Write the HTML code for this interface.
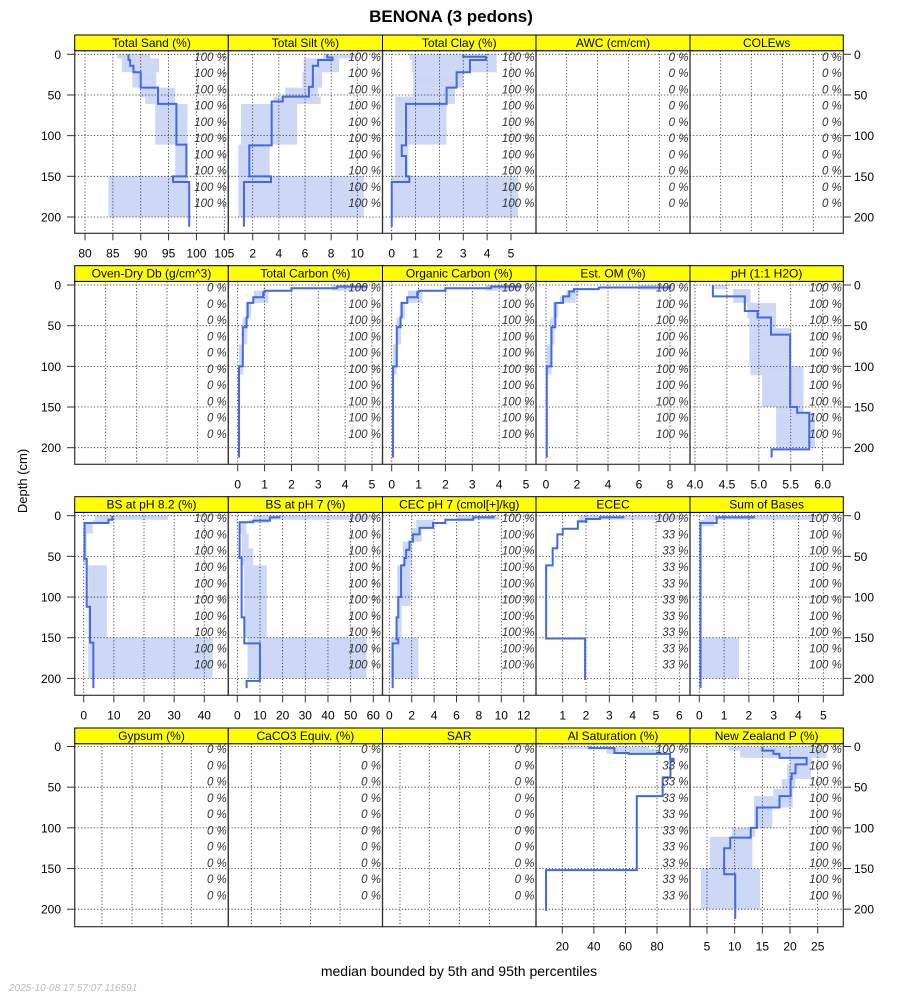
<!DOCTYPE html>
<html><head><meta charset="utf-8">
<style>
html,body{margin:0;padding:0;background:#fff;}
svg{display:block;font-family:"Liberation Sans",sans-serif;}
</style></head>
<body>
<svg id="chart" width="900" height="1000" viewBox="0 0 900 1000" xmlns="http://www.w3.org/2000/svg">
<text x="451" y="22" text-anchor="middle" font-size="17" font-weight="bold">BENONA (3 pedons)</text>
<text transform="translate(27,481) rotate(-90)" text-anchor="middle" font-size="13">Depth (cm)</text>
<text x="459" y="976" text-anchor="middle" font-size="14">median bounded by 5th and 95th percentiles</text>
<text x="9" y="991" font-size="10" font-style="italic" fill="#bbb">2025-10-08 17:57:07.116591</text>
</svg>
<script>
// ---- data (depth boundaries in cm, values) ----
const sandMedD=[0,7,14,22,41,61,111,150,157,212];
const sandMed=[87.8,88.1,88.7,90.0,93.1,96.4,98.2,95.8,98.7];
const sandBandD=[0,5,22,41,53,61,111,150,200];
const sandP5=[85.8,86.6,88.5,89.9,90.8,92.6,96.2,84.2];
const sandP95=[91.7,93.3,92.8,96.2,96.2,98.4,98.4,98.5];

const siltMedD=[0,4,7,14,40,52,58,112,150,157,212];
const siltMed=[7.7,8.1,7.0,6.6,6.3,4.3,3.45,1.74,3.4,1.33];
const siltBandD=[0,5,22,41,52,61,111,150,200];
const siltP5=[7.4,5.9,5.8,4.5,3.6,1.1,0.9,0.9];
const siltP95=[9.9,8.6,7.3,7.0,7.2,5.4,3.3,10.5];

const clayMedD=[0,3,7,22,41,61,112,125,150,157,212];
const clayMed=[3.0,3.95,3.28,2.72,2.3,0.6,0.42,0.6,0.74,0.0];
const clayBandD=[0,7,22,41,52,61,111,150,200];
const clayP5=[0.74,0.85,0.9,0.9,0.15,0.15,0.15,0.0];
const clayP95=[4.4,4.4,3.0,2.65,2.65,2.3,0.7,5.3];

const tcMedD=[0,2,4,7,9,15,22,40,52,100,212];
const tcMed=[4.8,3.7,2.0,1.0,0.95,0.58,0.37,0.33,0.19,0.05];
const tcBandD=[0,7,22,40,73,110,200];
const tcP5=[3.5,0.6,0.3,0.18,0.05,0.03];
const tcP95=[4.8,1.15,0.5,0.35,0.2,0.08];

const ocMedD=[0,2,4,7,9,15,22,40,52,100,212];
const ocMed=[4.8,3.7,2.0,1.0,0.95,0.58,0.37,0.33,0.19,0.05];
const ocBandD=[0,7,22,40,73,110,200];
const ocP5=[3.5,0.6,0.3,0.18,0.05,0.03];
const ocP95=[4.8,1.15,0.5,0.35,0.2,0.08];

const omMedD=[0,3,5,8,14,22,52,100,212];
const omMed=[8.0,3.4,1.8,1.5,1.1,0.6,0.35,0.05];
const omBandD=[0,6,14,22,40,73,110,200];
const omP5=[6.0,1.3,0.9,0.45,0.25,0.05,0.0];
const omP95=[8.3,2.1,1.9,0.8,0.55,0.35,0.1];

const phMedD=[0,14,32,40,61,150,157,202,212];
const phMed=[4.28,4.78,4.98,5.19,5.49,5.6,5.79,5.2];
const phBandD=[0,5,22,41,53,100,111,150,157,200];
const phP5=[4.3,4.6,4.82,4.85,4.85,4.87,5.05,5.27,5.27];
const phP95=[4.5,4.87,5.27,5.27,5.5,5.7,5.7,5.7,5.88];

const bs82MedD=[0,5,9,50,53,112,156,212];
const bs82Med=[9.5,8.2,0.3,0.2,1.0,2.1,3.2];
const bs82BandD=[0,5,9,22,61,150,200];
const bs82P5=[3.7,3.0,0.5,0.0,1.5,1.5];
const bs82P95=[28,8.5,3.0,1.0,7.7,42.8];

const bs7MedD=[0,2,6,8,52,125,157,203,212];
const bs7Med=[18.5,14.4,7,1.0,1.9,3.1,10.0,4.1];
const bs7BandD=[0,5,9,22,40,61,150,200];
const bs7P5=[7.1,5,1.3,2,2,3,4.5];
const bs7P95=[60,14,4,5,7,13,57];

const cecMedD=[0,2,5,9,15,23,32,42,52,61,100,125,152,157,212];
const cecMed=[9.3,7.5,5.0,3.9,2.7,2.1,1.8,1.5,1.35,1.05,0.8,0.65,0.8,0.3];
const cecBandD=[0,5,15,32,61,111,150,200];
const cecP5=[6.0,2.4,2.0,1.2,0.7,0.7,0.1];
const cecP95=[9.8,4.0,2.9,2.0,1.9,1.1,2.6];

const ececMedD=[0,2,4,7,16,23,40,61,151,202];
const ececMed=[3.6,2.6,2.0,1.65,1.0,0.77,0.57,0.29,1.96];
const ececBandD=[0,5,9];
const ececP5=[1.7,1.7];
const ececP95=[6.0,2.1];

const sumMedD=[0,2,9,212];
const sumMed=[2.2,0.7,0.05];
const sumBandD=[0,5,13,150,200];
const sumP5=[0.2,0.0,0.05,0.0];
const sumP95=[4.7,0.6,0.05,1.6];

const alMedD=[0,2,8,9,15,17,38,61,152,202];
const alMed=[37,53,62,88.3,90.5,88.5,83.6,67.2,9.7];
const alBandD=[0,3,9];
const alP5=[12,48];
const alP95=[75,82];

const nzMedD=[0,5,9,14,22,33,40,61,75,100,112,125,157,212];
const nzMed=[15.0,17.0,18.1,23.0,21.0,20.3,20.1,18.1,14.0,12.9,9.2,8.1,10.1];
const nzBandD=[0,5,14,22,40,52,61,75,100,111,150,200];
const nzP5=[8.9,11,20,19.5,18.5,17,13.5,13.5,9.5,5.5,3.9];
const nzP95=[25.4,26.6,24,23.8,21,20.5,20.5,16.8,13.7,13.2,14.6];

const depthTicks=[0,50,100,150,200];
const pctDepths=[0,20,40,60,80,100,120,140,160,180];
const L100=["100 %","100 %","100 %","100 %","100 %","100 %","100 %","100 %","100 %","100 %"];
const L0=["0 %","0 %","0 %","0 %","0 %","0 %","0 %","0 %","0 %","0 %"];
const L33=["100 %","33 %","33 %","33 %","33 %","33 %","33 %","33 %","33 %","33 %"];

// ---- layout ----
const colL=[74.7,228.3,382.5,536,690,843.3];
const stripTop=[35,265.7,496.7,728];
const panelBot=[233.3,464.3,695.3,926.7];
const depth0=[54.3,285,515.7,746.5];
const PXCM=0.8135;
const SH=15.7;

const panels=[
 {t:"Total Sand (%)",r:0,c:0,s:[80,85,105,224.3],ticks:[80,85,90,95,100,105],md:sandMedD,m:sandMed,bd:sandBandD,lo:sandP5,hi:sandP95,lab:L100,n:"total-sand"},
 {t:"Total Silt (%)",r:0,c:1,s:[2,252.7,10,357.3],ticks:[2,4,6,8,10],md:siltMedD,m:siltMed,bd:siltBandD,lo:siltP5,hi:siltP95,lab:L100,n:"total-silt"},
 {t:"Total Clay (%)",r:0,c:2,s:[0,391.7,5,511],ticks:[0,1,2,3,4,5],md:clayMedD,m:clayMed,bd:clayBandD,lo:clayP5,hi:clayP95,lab:L100,n:"total-clay"},
 {t:"AWC (cm/cm)",r:0,c:3,grid:[566.7,597.7,628.3,659.3],lab:L0,n:"awc"},
 {t:"COLEws",r:0,c:4,grid:[720.7,751.3,782.3,813.3],lab:L0,n:"colews"},
 {t:"Oven-Dry Db (g/cm^3)",r:1,c:0,grid:[105.7,136.7,167,197.7],lab:L0,n:"oven-dry-db"},
 {t:"Total Carbon (%)",r:1,c:1,s:[0,237.7,5,372],ticks:[0,1,2,3,4,5],md:tcMedD,m:tcMed,bd:tcBandD,lo:tcP5,hi:tcP95,lab:L100,n:"total-carbon"},
 {t:"Organic Carbon (%)",r:1,c:2,s:[0,391.7,5,526],ticks:[0,1,2,3,4,5],md:ocMedD,m:ocMed,bd:ocBandD,lo:ocP5,hi:ocP95,lab:L100,n:"organic-carbon"},
 {t:"Est. OM (%)",r:1,c:3,s:[0,546,8,670],ticks:[0,2,4,6,8],md:omMedD,m:omMed,bd:omBandD,lo:omP5,hi:omP95,lab:L100,n:"est-om"},
 {t:"pH (1:1 H2O)",r:1,c:4,s:[4,695,6,822.7],ticks:[4,4.5,5,5.5,6],fmt:1,md:phMedD,m:phMed,bd:phBandD,lo:phP5,hi:phP95,lab:L100,n:"ph"},
 {t:"BS at pH 8.2 (%)",r:2,c:0,s:[0,83.7,40,204.3],ticks:[0,10,20,30,40],md:bs82MedD,m:bs82Med,bd:bs82BandD,lo:bs82P5,hi:bs82P95,lab:L100,n:"bs-ph82"},
 {t:"BS at pH 7 (%)",r:2,c:1,s:[0,237.3,60,373.3],ticks:[0,10,20,30,40,50,60],md:bs7MedD,m:bs7Med,bd:bs7BandD,lo:bs7P5,hi:bs7P95,lab:L100,n:"bs-ph7"},
 {t:"CEC pH 7 (cmol[+]/kg)",r:2,c:2,s:[0,389.3,12,523.7],ticks:[0,2,4,6,8,10,12],md:cecMedD,m:cecMed,bd:cecBandD,lo:cecP5,hi:cecP95,lab:L100,n:"cec-ph7"},
 {t:"ECEC",r:2,c:3,s:[1,562.7,6,679.3],ticks:[1,2,3,4,5,6],md:ececMedD,m:ececMed,bd:ececBandD,lo:ececP5,hi:ececP95,lab:L33,n:"ecec"},
 {t:"Sum of Bases",r:2,c:4,s:[0,699.3,5,823.3],ticks:[0,1,2,3,4,5],md:sumMedD,m:sumMed,bd:sumBandD,lo:sumP5,hi:sumP95,lab:L100,n:"sum-of-bases"},
 {t:"Gypsum (%)",r:3,c:0,grid:[102,132,162,191.3],lab:L0,n:"gypsum"},
 {t:"CaCO3 Equiv. (%)",r:3,c:1,grid:[251.3,280.7,310.7,340],lab:L0,n:"caco3"},
 {t:"SAR",r:3,c:2,grid:[400,429.3,459.3,489.3],lab:L0,n:"sar"},
 {t:"Al Saturation (%)",r:3,c:3,s:[20,562.3,80,657],ticks:[20,40,60,80],md:alMedD,m:alMed,bd:alBandD,lo:alP5,hi:alP95,lab:L33,n:"al-saturation"},
 {t:"New Zealand P (%)",r:3,c:4,s:[5,707,25,817.7],ticks:[5,10,15,20,25],md:nzMedD,m:nzMed,bd:nzBandD,lo:nzP5,hi:nzP95,lab:L100,n:"new-zealand-p"}
];

const NS="http://www.w3.org/2000/svg";
const svg=document.getElementById("chart");
function mk(tag,attrs,parent){const e=document.createElementNS(NS,tag);for(const k in attrs)e.setAttribute(k,attrs[k]);(parent||svg).appendChild(e);return e;}

const defs=mk("defs",{});
// y-axis ticks/labels per row, both sides
for(let r=0;r<4;r++){
  const top=stripTop[r]+SH;
  depthTicks.forEach(d=>{
    const y=depth0[r]+d*PXCM;
    const t1=mk("line",{x1:67,x2:colL[0],y1:y,y2:y,stroke:"#333","stroke-width":1});
    
    
    const l1=mk("text",{x:61,y:y+4.5,"text-anchor":"end","font-size":12});
    l1.textContent=d;
    
    
    const t2=mk("line",{x1:colL[5],x2:851,y1:y,y2:y,stroke:"#333","stroke-width":1});
    
    
    const l2=mk("text",{x:854,y:y+4.5,"font-size":12});
    l2.textContent=d;
    
    
  });
}

panels.forEach((p,i)=>{
  const x0=colL[p.c], x1=colL[p.c+1], st=stripTop[p.r], top=st+SH, bot=panelBot[p.r], d0=depth0[p.r];
  const yS=d=>d0+d*PXCM;
  const g=mk("g",{});
  
  
  const cp=mk("clipPath",{id:"cp"+i},defs);
  mk("rect",{x:x0,y:top,width:x1-x0,height:bot-top},cp);
  let xS=null;
  if(p.s){const [v1,p1,v2,p2]=p.s;xS=v=>p1+(v-v1)*(p2-p1)/(v2-v1);}
  // band
  if(p.bd){
    for(let k=0;k<p.lo.length;k++){
      const a=xS(p.lo[k]),b=xS(p.hi[k]);
      const rc=mk("rect",{x:Math.min(a,b),y:yS(p.bd[k]),width:Math.max(Math.abs(b-a),0.01),height:yS(p.bd[k+1])-yS(p.bd[k]),fill:"#cdd8f6","clip-path":"url(#cp"+i+")"},g);
      
      
    }
  }
  // grid
  const gx=p.grid?p.grid:p.ticks.map(xS);
  gx.forEach(x=>{if(x>x0+0.5&&x<x1-0.5){const gl=mk("line",{x1:x,x2:x,y1:top,y2:bot,stroke:"#222","stroke-width":0.8,"stroke-dasharray":"1.2 2"},g);
    
    }});
  depthTicks.forEach(d=>{const gl=mk("line",{x1:x0,x2:x1,y1:yS(d),y2:yS(d),stroke:"#222","stroke-width":0.8,"stroke-dasharray":"1.2 2"},g);
    
    });
  // median
  if(p.md){
    let dstr="";
    for(let k=0;k<p.m.length;k++){
      const x=xS(p.m[k]);
      dstr+=(k===0?"M":"L")+x.toFixed(2)+","+yS(p.md[k]).toFixed(2)+"L"+x.toFixed(2)+","+yS(p.md[k+1]).toFixed(2);
    }
    const pl=mk("path",{d:dstr,fill:"none",stroke:"#4169e1","stroke-width":2,"clip-path":"url(#cp"+i+")"},g);
    
    
  }
  // percent labels
  p.lab.forEach((s,k)=>{
    const t=mk("text",{x:x1-1.5,y:yS(pctDepths[k])+6.5,"text-anchor":"end","font-size":11.5,"font-style":"italic",fill:"#333"},g);
    t.textContent=s;
    
    
  });
  // frame
  const fr=mk("rect",{x:x0,y:top,width:x1-x0,height:bot-top,fill:"none",stroke:"#333","stroke-width":1.2},g);
  
  
  // strip
  const sr=mk("rect",{x:x0,y:st,width:x1-x0,height:SH,fill:"#ffff00",stroke:"#000","stroke-width":1},g);
  
  
  const stx=mk("text",{x:(x0+x1)/2,y:st+12,"text-anchor":"middle","font-size":12},g);
  stx.textContent=p.t;
  
  
  // x ticks
  if(p.ticks){
    p.ticks.forEach(v=>{
      const x=xS(v);
      const tl=mk("line",{x1:x,x2:x,y1:bot,y2:bot+7,stroke:"#333","stroke-width":1},g);
      
      
      const tt=mk("text",{x:x,y:bot+24,"text-anchor":"middle","font-size":12},g);
      tt.textContent=p.fmt?v.toFixed(1):String(v);
      
      
    });
  }
});
</script>
</body></html>
